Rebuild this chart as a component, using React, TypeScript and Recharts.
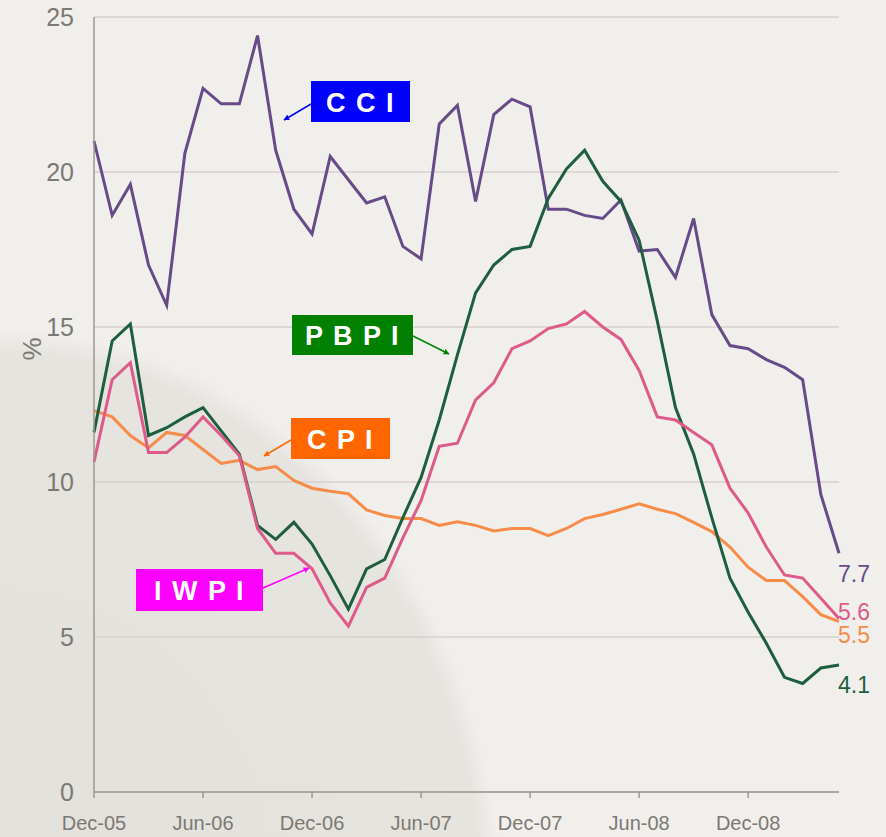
import React from 'react';
import { LineChart, Line, XAxis, YAxis, CartesianGrid, LabelList } from 'recharts';

const months = [
  'Dec-05',
  'Jan-06', 'Feb-06', 'Mar-06', 'Apr-06', 'May-06', 'Jun-06', 'Jul-06', 'Aug-06', 'Sep-06', 'Oct-06', 'Nov-06', 'Dec-06',
  'Jan-07', 'Feb-07', 'Mar-07', 'Apr-07', 'May-07', 'Jun-07', 'Jul-07', 'Aug-07', 'Sep-07', 'Oct-07', 'Nov-07', 'Dec-07',
  'Jan-08', 'Feb-08', 'Mar-08', 'Apr-08', 'May-08', 'Jun-08', 'Jul-08', 'Aug-08', 'Sep-08', 'Oct-08', 'Nov-08', 'Dec-08',
  'Jan-09', 'Feb-09', 'Mar-09', 'Apr-09', 'May-09',
];

const cci = [21.0, 18.6, 19.6, 17.0, 15.7, 20.6, 22.7, 22.2, 22.2, 24.4, 20.7, 18.8, 18.0, 20.5, 19.75, 19.0, 19.2, 17.6, 17.2, 21.55, 22.15, 19.05, 21.85, 22.35, 22.1, 18.8, 18.8, 18.6, 18.5, 19.1, 17.45, 17.5, 16.6, 18.5, 15.4, 14.4, 14.3, 13.95, 13.7, 13.3, 9.6, 7.7];
const pbpi = [11.6, 14.55, 15.1, 11.5, 11.75, 12.1, 12.4, 11.65, 10.9, 8.6, 8.15, 8.7, 8.0, 6.98, 5.9, 7.2, 7.5, 8.85, 10.15, 12.0, 14.1, 16.1, 17.0, 17.5, 17.6, 19.15, 20.1, 20.7, 19.7, 19.05, 17.8, 15.2, 12.4, 10.9, 8.85, 6.9, 5.8, 4.8, 3.7, 3.5, 4.0, 4.1];
const iwpi = [10.65, 13.3, 13.85, 10.95, 10.95, 11.45, 12.1, 11.5, 10.85, 8.5, 7.7, 7.7, 7.2, 6.1, 5.35, 6.6, 6.9, 8.2, 9.4, 11.15, 11.25, 12.65, 13.2, 14.3, 14.55, 14.95, 15.1, 15.5, 15.0, 14.6, 13.6, 12.1, 12.0, 11.6, 11.2, 9.8, 9.0, 7.9, 7.0, 6.9, 6.25, 5.6];
const cpi = [12.3, 12.1, 11.5, 11.1, 11.6, 11.5, 11.05, 10.6, 10.7, 10.4, 10.5, 10.05, 9.8, 9.7, 9.62, 9.1, 8.92, 8.82, 8.82, 8.6, 8.72, 8.6, 8.42, 8.5, 8.5, 8.27, 8.5, 8.82, 8.95, 9.12, 9.3, 9.12, 8.98, 8.7, 8.4, 7.9, 7.25, 6.82, 6.82, 6.3, 5.72, 5.5];

const yTicks = [0, 5, 10, 15, 20, 25];

const data = months.map((m, i) => ({ month: m, cci: cci[i], pbpi: pbpi[i], iwpi: iwpi[i], cpi: cpi[i] }));

const FONT = '"Liberation Sans", Arial, Helvetica, sans-serif';
const TICK_COLOR = '#7d7873';
const AXIS_COLOR = '#9c9792';

const C_CCI = '#674b88';
const C_PBPI = '#1d5e3e';
const C_IWPI = '#de5a8b';
const C_CPI = '#f68c48';

const endLabel = (color: string, dy: number) => (props: any) => {
  const { x, y, index, value } = props;
  if (index !== months.length - 1) return null;
  return (
    <text x={x - 1} y={y + dy} fill={color} fontSize={23} fontFamily={FONT} textAnchor="start">
      {Number(value).toFixed(1)}
    </text>
  );
};

const callouts = [
  { text: 'C C I', fill: '#0000ff', box: [311, 81, 99, 41], from: [311, 104], to: [284, 120] },
  { text: 'P B P I', fill: '#008000', box: [292, 315, 121, 40], from: [413, 336], to: [449, 354] },
  { text: 'C P I', fill: '#ff6600', box: [291, 418, 99, 41], from: [291, 440], to: [264, 456] },
  { text: 'I W P I', fill: '#ff00ff', box: [136, 569, 127, 42], from: [263, 588], to: [309, 568] },
];

function Overlay() {
  return (
    <svg
      width={886}
      height={837}
      style={{ position: 'absolute', left: 0, top: 0, pointerEvents: 'none' }}
    >
      <defs>
        {callouts.map((c, i) => (
          <marker
            key={i}
            id={`arr${i}`}
            viewBox="0 0 10 10"
            refX="9"
            refY="5"
            markerWidth="6"
            markerHeight="6"
            orient="auto"
            markerUnits="userSpaceOnUse"
          >
            <path d="M0,0 L10,5 L0,10 z" fill={c.fill} />
          </marker>
        ))}
      </defs>
      <text
        x={32}
        y={349}
        transform="rotate(-90 32 349)"
        textAnchor="middle"
        dominantBaseline="central"
        fontSize={26}
        fill={TICK_COLOR}
        fontFamily={FONT}
      >
        %
      </text>
      {callouts.map((c, i) => (
        <g key={i}>
          <line
            x1={c.from[0]}
            y1={c.from[1]}
            x2={c.to[0]}
            y2={c.to[1]}
            stroke={c.fill}
            strokeWidth={1.5}
            markerEnd={`url(#arr${i})`}
          />
          <rect x={c.box[0]} y={c.box[1]} width={c.box[2]} height={c.box[3]} fill={c.fill} />
          <text
            x={c.box[0] + c.box[2] / 2}
            y={c.box[1] + c.box[3] / 2 + 1}
            textAnchor="middle"
            dominantBaseline="central"
            fontSize={27}
            fontWeight="bold"
            fill="#ffffff"
            fontFamily={FONT}
            letterSpacing={1.5}
            style={{ whiteSpace: 'pre' }}
          >
            {c.text}
          </text>
        </g>
      ))}
    </svg>
  );
}

export default function App() {
  return (
    <div
      style={{
        position: 'absolute',
        left: 0,
        top: 0,
        width: 886,
        height: 837,
        overflow: 'hidden',
        background:
          'radial-gradient(ellipse 500px 570px at 0px 900px, #e3e1dc 0%, #e6e4df 96%, #f1efec 100%)',
        backgroundColor: '#f1efec',
      }}
    >
      <LineChart
        width={886}
        height={837}
        data={data}
        margin={{ top: 17, right: 47, left: 0, bottom: 0 }}
      >
        <CartesianGrid horizontal vertical={false} stroke="#d6d1cb" strokeWidth={1.5} />
        <XAxis
          dataKey="month"
          interval={5}
          height={45}
          tickSize={6}
          tickMargin={18}
          axisLine={{ stroke: AXIS_COLOR, strokeWidth: 1.5 }}
          tickLine={{ stroke: AXIS_COLOR, strokeWidth: 1.5 }}
          tick={{ fill: TICK_COLOR, fontSize: 20, fontFamily: FONT }}
        />
        <YAxis
          domain={[0, 25]}
          ticks={yTicks}
          width={94}
          tickLine={false}
          tickSize={0}
          tickMargin={20}
          axisLine={{ stroke: AXIS_COLOR, strokeWidth: 1.5 }}
          tick={{ fill: TICK_COLOR, fontSize: 25, fontFamily: FONT }}
        />
        <Line dataKey="cci" type="linear" stroke={C_CCI} strokeWidth={3} dot={false} isAnimationActive={false}>
          <LabelList dataKey="cci" content={endLabel(C_CCI, 29)} />
        </Line>
        <Line dataKey="cpi" type="linear" stroke={C_CPI} strokeWidth={3} dot={false} isAnimationActive={false}>
          <LabelList dataKey="cpi" content={endLabel(C_CPI, 21.5)} />
        </Line>
        <Line dataKey="pbpi" type="linear" stroke={C_PBPI} strokeWidth={3} dot={false} isAnimationActive={false}>
          <LabelList dataKey="pbpi" content={endLabel(C_PBPI, 28)} />
        </Line>
        <Line dataKey="iwpi" type="linear" stroke={C_IWPI} strokeWidth={3} dot={false} isAnimationActive={false}>
          <LabelList dataKey="iwpi" content={endLabel(C_IWPI, 2)} />
        </Line>
      </LineChart>
      <Overlay />
    </div>
  );
}
